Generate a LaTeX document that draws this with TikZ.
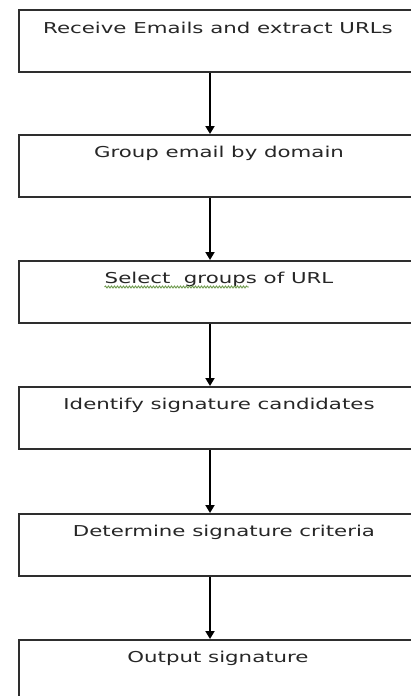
\documentclass[tikz,border=0pt]{standalone}
\usepackage{fontspec}
\usepackage{graphicx}
\setmainfont{DejaVu Sans}
\usetikzlibrary{arrows.meta,calc,decorations.pathmorphing}

\definecolor{boxline}{HTML}{2E2E2E}
\definecolor{txtcol}{HTML}{262626}
\definecolor{squiggle}{HTML}{6E9A4E}

\tikzset{
  stepbox/.style={draw=boxline, line width=2pt, minimum width=400pt,
    minimum height=62pt, inner sep=0pt, anchor=north west},
  steptext/.style={text=txtcol, inner sep=0pt, anchor=center,
    font=\fontsize{15}{17}\selectfont},
  flow/.style={draw=black, line width=1.8pt,
    -{Triangle[width=9pt,length=8pt]}}
}
\newcommand{\wide}[1]{\scalebox{1.42}[1]{#1}}

\begin{document}
\begin{tikzpicture}[x=1pt,y=-1pt]
  \useasboundingbox (0,0) rectangle (411,696);
  \clip (0,0) rectangle (411,696);

  % boxes, top edges every 126pt
  \node[stepbox] (b1) at (18,9)   {};
  \node[stepbox] (b2) at (18,134) {};
  \node[stepbox] (b3) at (18,260) {};
  \node[stepbox] (b4) at (18,386) {};
  \node[stepbox] (b5) at (18,513) {};
  \node[stepbox] (b6) at (18,639) {};

  % step captions near the top of each box
  \node[steptext] (t1) at (218,28)  {\wide{Receive Emails and extract URLs}};
  \node[steptext] (t2) at (219,153) {\wide{Group email by domain}};
  \node[steptext] (t3) at (219,279) {\wide{Select\ \ groups of URL}};
  \node[steptext] (t4) at (219,405) {\wide{Identify signature candidates}};
  \node[steptext] (t5) at (224,532) {\wide{Determine signature criteria}};
  \node[steptext] (t6) at (218,658) {\wide{Output signature}};

  % spell-check squiggle under the first two words
  \coordinate (sq0) at ($(t3.south west)+(0,0.5)$);
  \coordinate (sq1) at ($(t3.south west)!0.63!(t3.south east)+(0,0.5)$);
  \draw[squiggle, line width=0.9pt,
        decorate, decoration={snake, amplitude=1pt, segment length=3pt}]
    (sq0) -- (sq1);

  % connectors at x = 210
  \foreach \a/\b in {b1/b2, b2/b3, b3/b4, b4/b5, b5/b6}{
    \draw[flow] (\a.south west -| 210,0) -- (\b.north west -| 210,0);
  }
\end{tikzpicture}
\end{document}
